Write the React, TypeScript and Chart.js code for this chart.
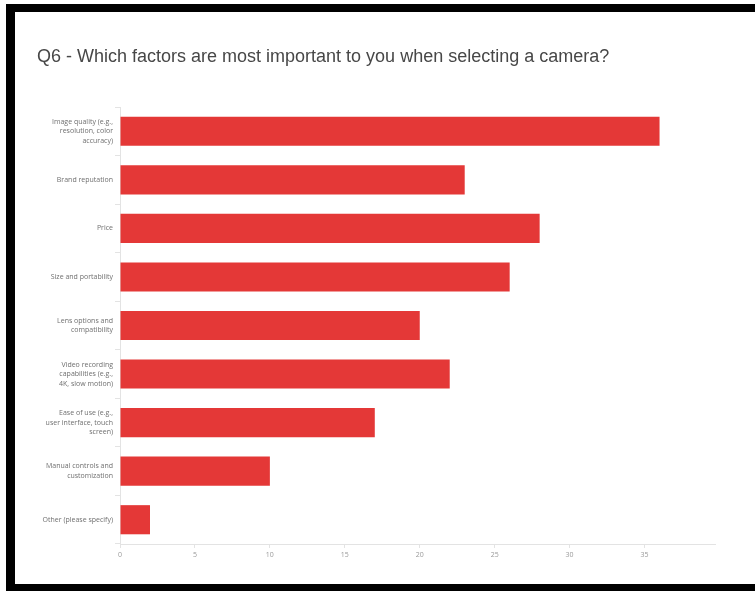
import React, { useEffect, useRef } from "react";
import { Chart, registerables } from "chart.js";

Chart.register(...registerables);

const titleText = "Q6 - Which factors are most important to you when selecting a camera?";

const categories: string[][] = [
  ["Image quality (e.g.,", "resolution, color", "accuracy)"],
  ["Brand reputation"],
  ["Price"],
  ["Size and portability"],
  ["Lens options and", "compatibility"],
  ["Video recording", "capabilities (e.g.,", "4K, slow motion)"],
  ["Ease of use (e.g.,", "user interface, touch", "screen)"],
  ["Manual controls and", "customization"],
  ["Other (please specify)"],
];

const counts: number[] = [36, 23, 28, 26, 20, 22, 17, 10, 2];

const xTicks: number[] = [0, 5, 10, 15, 20, 25, 30, 35];
const xMax = 39.7;

const barColor = "#e43837";

export default function App() {
  const canvasRef = useRef<HTMLCanvasElement | null>(null);

  useEffect(() => {
    document.body.style.margin = "0";
    const canvas = canvasRef.current;
    if (!canvas) return;
    const chart = new Chart(canvas, {
      type: "bar",
      data: {
        labels: categories,
        datasets: [
          {
            data: counts,
            backgroundColor: barColor,
            borderWidth: 0,
            categoryPercentage: 0.6,
            barPercentage: 1,
          },
        ],
      },
      options: {
        indexAxis: "y",
        animation: false,
        responsive: false,
        layout: { padding: { left: 37, right: 40, top: 31, bottom: 28 } },
        plugins: {
          legend: { display: false },
          tooltip: { enabled: false },
          title: {
            display: true,
            text: titleText,
            align: "start",
            color: "#474747",
            font: { family: "'Liberation Sans', Arial, sans-serif", size: 18, weight: "normal" },
            padding: { top: 15, bottom: 39.4 },
          },
        },
        scales: {
          x: {
            type: "linear",
            min: 0,
            max: xMax,
            afterBuildTicks: (scale: any) => {
              scale.ticks = xTicks.map((v) => ({ value: v }));
            },
            afterFit: (scale: any) => {
              scale.height = 20;
            },
            border: { display: true, color: "#e3e3e3", width: 1 },
            grid: {
              display: true,
              drawOnChartArea: false,
              drawTicks: true,
              tickLength: 4,
              color: "#e3e3e3",
            },
            ticks: {
              color: "#999999",
              padding: 3,
              font: { family: "'Open Sans', sans-serif", size: 7 },
            },
          },
          y: {
            type: "category",
            offset: true,
            afterFit: (scale: any) => {
              scale.width = 83;
            },
            border: { display: true, color: "#e3e3e3", width: 1 },
            grid: {
              display: true,
              offset: true,
              drawOnChartArea: false,
              tickLength: 5,
              color: "#e3e3e3",
            },
            ticks: {
              color: "#6f6f6f",
              padding: 2,
              autoSkip: false,
              font: { family: "'Open Sans', sans-serif", size: 7, lineHeight: 1.35 },
            },
          },
        },
      },
    });
    return () => chart.destroy();
  }, []);

  return (
    <div
      style={{
        position: "absolute",
        left: 0,
        top: 0,
        width: 755,
        height: 592,
        background: "#ffffff",
        overflow: "hidden",
      }}
    >
      <canvas ref={canvasRef} width={755} height={592} style={{ position: "absolute", left: 0, top: 0 }} />
      <div style={{ position: "absolute", left: 6, top: 4, width: 749, height: 8, background: "#000" }} />
      <div style={{ position: "absolute", left: 6, top: 4, width: 9, height: 587, background: "#000" }} />
      <div style={{ position: "absolute", left: 6, top: 584, width: 749, height: 7, background: "#000" }} />
    </div>
  );
}
